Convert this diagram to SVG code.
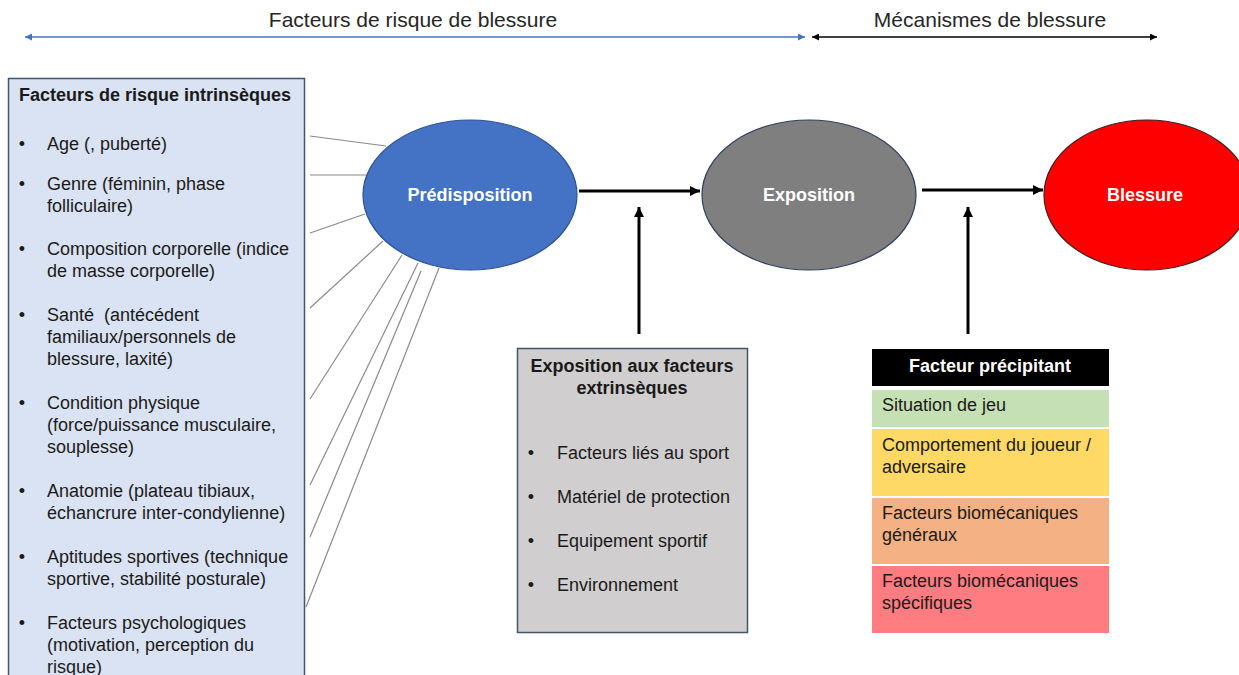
<svg xmlns="http://www.w3.org/2000/svg" width="1239" height="675" viewBox="0 0 1239 675">
<defs>
<style>
text{font-family:"Liberation Sans",Arial,sans-serif;fill:#1a1a1a}
.hdr{font-size:21px;fill:#262626}
.t18{font-size:18px}
.b18{font-size:18px;font-weight:bold}
.wb{font-size:18px;font-weight:bold;fill:#ffffff}
.mid{text-anchor:middle}
.ray{stroke:#8a8a8a;stroke-width:1.2;fill:none}
.flow{stroke:#000;stroke-width:3;fill:none}
</style>
<marker id="ahB" viewBox="0 0 10 10" refX="10" refY="5" markerWidth="8" markerHeight="7" markerUnits="userSpaceOnUse" orient="auto-start-reverse"><path d="M0,0 L10,5 L0,10 z" fill="#4472C4"/></marker>
<marker id="ahK" viewBox="0 0 10 10" refX="10" refY="5" markerWidth="8" markerHeight="7" markerUnits="userSpaceOnUse" orient="auto-start-reverse"><path d="M0,0 L10,5 L0,10 z" fill="#000"/></marker>
<marker id="ahF" viewBox="0 0 10 10" refX="10" refY="5" markerWidth="10" markerHeight="10" markerUnits="userSpaceOnUse" orient="auto"><path d="M0,0 L10,5 L0,10 z" fill="#000"/></marker>
</defs>
<rect width="1239" height="675" fill="#ffffff"/>

<g id="headers">
<text class="hdr mid" x="413" y="27">Facteurs de risque de blessure</text>
<text class="hdr mid" x="990" y="27">Mécanismes de blessure</text>
<line x1="25" y1="37" x2="805" y2="37" stroke="#4472C4" stroke-width="1.3" marker-start="url(#ahB)" marker-end="url(#ahB)"/>
<line x1="812" y1="37" x2="1157" y2="37" stroke="#000" stroke-width="1.3" marker-start="url(#ahK)" marker-end="url(#ahK)"/>
</g>

<g id="intrinseques">
<rect x="8.5" y="78.5" width="296" height="610" fill="#DAE3F3" stroke="#44546A" stroke-width="1.5"/>
<text class="b18" x="19" y="101">Facteurs de risque intrinsèques</text>
<g class="t18">
<text class="t18 mid" x="22" y="150">•</text><text class="t18" x="47" y="150">Age (, puberté)</text>
<text class="t18 mid" x="22" y="190">•</text><text class="t18" x="47" y="190">Genre (féminin, phase</text>
<text class="t18" x="47" y="212">folliculaire)</text>
<text class="t18 mid" x="22" y="255">•</text><text class="t18" x="47" y="255">Composition corporelle (indice</text>
<text class="t18" x="47" y="277">de masse corporelle)</text>
<text class="t18 mid" x="22" y="321">•</text><text class="t18" x="47" y="321" xml:space="preserve">Santé  (antécédent</text>
<text class="t18" x="47" y="343">familiaux/personnels de</text>
<text class="t18" x="47" y="365">blessure, laxité)</text>
<text class="t18 mid" x="22" y="409">•</text><text class="t18" x="47" y="409">Condition physique</text>
<text class="t18" x="47" y="431">(force/puissance musculaire,</text>
<text class="t18" x="47" y="453">souplesse)</text>
<text class="t18 mid" x="22" y="497">•</text><text class="t18" x="47" y="497">Anatomie (plateau tibiaux,</text>
<text class="t18" x="47" y="519">échancrure inter-condylienne)</text>
<text class="t18 mid" x="22" y="563">•</text><text class="t18" x="47" y="563">Aptitudes sportives (technique</text>
<text class="t18" x="47" y="585">sportive, stabilité posturale)</text>
<text class="t18 mid" x="22" y="629">•</text><text class="t18" x="47" y="629">Facteurs psychologiques</text>
<text class="t18" x="47" y="651">(motivation, perception du</text>
<text class="t18" x="47" y="673">risque)</text>
</g>
</g>

<g id="predisposition">
<ellipse cx="470" cy="195" rx="107" ry="75" fill="#4472C4" stroke="#2F528F" stroke-width="1.2"/>
<text class="wb mid" x="470" y="201">Prédisposition</text>
</g>

<g id="exposition">
<ellipse cx="809" cy="195" rx="107" ry="75" fill="#7F7F7F" stroke="#2F3F5F" stroke-width="1.2"/>
<text class="wb mid" x="809" y="201">Exposition</text>
</g>

<g id="blessure">
<ellipse cx="1147" cy="195" rx="103" ry="75" fill="#FF0000" stroke="#3F1F1F" stroke-width="1.2"/>
<text class="wb mid" x="1145" y="201">Blessure</text>
</g>

<g id="extrinseques">
<rect x="517.5" y="348.5" width="230" height="284" fill="#D0CECE" stroke="#44546A" stroke-width="1.5"/>
<text class="b18 mid" x="632" y="372">Exposition aux facteurs</text>
<text class="b18 mid" x="632" y="394">extrinsèques</text>
<text class="t18 mid" x="531" y="459">•</text><text class="t18" x="557" y="459">Facteurs liés au sport</text>
<text class="t18 mid" x="531" y="503">•</text><text class="t18" x="557" y="503">Matériel de protection</text>
<text class="t18 mid" x="531" y="547">•</text><text class="t18" x="557" y="547">Equipement sportif</text>
<text class="t18 mid" x="531" y="591">•</text><text class="t18" x="557" y="591">Environnement</text>
</g>

<g id="precipitant">
<rect x="872" y="349" width="237" height="37" fill="#000000"/>
<text class="wb mid" x="990" y="372">Facteur précipitant</text>
<rect x="872" y="390" width="237" height="37" fill="#C5E0B4"/>
<text class="t18" x="882" y="411">Situation de jeu</text>
<rect x="872" y="429" width="237" height="67" fill="#FFD966"/>
<text class="t18" x="882" y="451">Comportement du joueur /</text>
<text class="t18" x="882" y="473">adversaire</text>
<rect x="872" y="498" width="237" height="66" fill="#F4B183"/>
<text class="t18" x="882" y="519">Facteurs biomécaniques</text>
<text class="t18" x="882" y="541">généraux</text>
<rect x="872" y="566" width="237" height="67" fill="#FF7C80"/>
<text class="t18" x="882" y="587">Facteurs biomécaniques</text>
<text class="t18" x="882" y="609">spécifiques</text>
</g>

<g id="connectors">
<line class="ray" x1="310" y1="136" x2="386" y2="146"/>
<line class="ray" x1="310" y1="175" x2="366" y2="175" stroke="#404040"/>
<line class="ray" x1="310" y1="233" x2="365" y2="214"/>
<line class="ray" x1="310" y1="308" x2="383" y2="241"/>
<line class="ray" x1="310" y1="399" x2="402" y2="255"/>
<line class="ray" x1="310" y1="485" x2="418" y2="263"/>
<line class="ray" x1="310" y1="537" x2="421" y2="271"/>
<line class="ray" x1="306" y1="607" x2="439" y2="268"/>
<line class="flow" x1="579" y1="191" x2="700" y2="191" marker-end="url(#ahF)"/>
<line class="flow" x1="922" y1="190" x2="1043" y2="190" marker-end="url(#ahF)"/>
<line class="flow" x1="639" y1="334" x2="639" y2="207" marker-end="url(#ahF)"/>
<line class="flow" x1="968" y1="334" x2="968" y2="207" marker-end="url(#ahF)"/>
</g>
</svg>
